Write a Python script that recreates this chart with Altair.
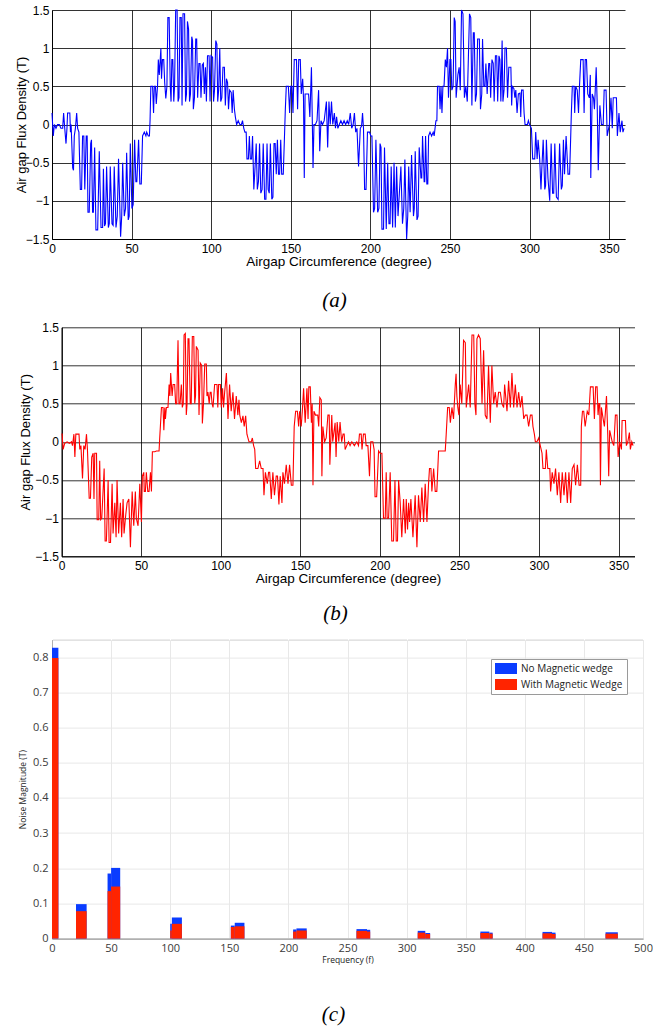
import altair as alt
import pandas as pd

# ---------------- panel (a): no magnetic wedge (degree, tesla) ----------------
wave_a = [
(0.0,0.15),(0.8,-0.15),(1.5,0.0),(2.5,-0.05),(3.5,0.0),(4.6,0.0),(5.6,-0.05),(6.7,-0.05),(7.3,0.15),(8.0,-0.05),
(8.8,-0.25),(9.4,-0.05),(9.8,0.15),(11.2,0.15),(11.6,-0.1),(12.0,0.0),(13.0,-0.57),(13.5,-0.6),(14.0,-0.15),(14.7,-0.05),
(15.5,0.15),(16.1,-0.05),(16.9,-0.1),(17.8,-0.85),(18.6,-0.85),(19.2,-0.15),(20.0,-0.15),(20.6,-0.85),(21.5,-0.15),(22.1,-0.15),
(22.6,-1.15),(23.4,-1.15),(24.3,-0.25),(24.8,-0.2),(25.5,-1.15),(26.0,-1.15),(26.8,-0.3),(27.6,-1.38),(28.7,-1.38),(29.7,-0.35),
(30.8,-1.35),(31.8,-1.35),(32.3,-0.58),(33.0,-1.33),(33.6,-1.3),(34.3,-0.55),(35.4,-1.35),(36.0,-1.3),(36.6,-0.55),(37.7,-1.3),
(38.4,-1.32),(39.1,-0.55),(40.2,-1.35),(41.0,-1.2),(41.8,-0.45),(43.1,-1.47),(43.8,-1.2),(44.4,-0.5),(45.4,-1.2),(46.2,-1.1),
(46.9,-0.37),(47.9,-1.25),(48.5,-1.2),(49.2,-0.25),(50.2,-1.1),(51.0,-1.05),(51.9,-0.2),(52.7,-0.75),(53.3,-0.75),(54.4,-0.2),
(55.2,-0.78),(56.1,-0.78),(56.9,-0.15),(58.0,-0.1),(59.0,-0.15),(59.5,-0.1),(60.5,-0.15),(61.2,-0.15),(61.6,0.05),(62.1,0.5),
(63.2,0.5),(63.8,0.15),(64.3,0.5),(65.0,0.5),(65.5,0.27),(66.3,0.5),(66.8,0.85),(67.4,0.65),(68.0,0.85),(68.4,1.0),
(68.8,0.6),(69.4,0.85),(70.2,0.85),(70.8,0.55),(71.5,0.34),(72.2,0.5),(72.8,1.4),(73.6,1.4),(74.3,0.5),(74.8,0.3),
(75.3,0.85),(75.9,0.85),(76.5,0.3),(77.0,0.5),(77.7,1.5),(78.6,1.5),(79.2,0.3),(79.8,0.35),(80.4,1.4),(81.2,1.4),
(81.7,0.25),(82.3,1.45),(83.3,1.45),(83.9,0.3),(84.5,0.4),(85.1,1.35),(85.8,1.25),(86.4,0.3),(87.0,0.4),(87.8,1.15),
(88.3,1.1),(88.8,0.2),(89.5,0.35),(90.3,1.12),(90.9,1.12),(91.5,0.35),(92.3,0.8),(93.0,0.8),(93.6,0.35),(94.4,0.78),
(95.1,0.8),(95.7,0.4),(96.4,0.75),(97.0,0.3),(97.7,0.9),(98.7,0.9),(99.3,0.3),(99.9,0.9),(100.9,0.88),(101.5,0.3),
(102.1,0.45),(102.9,1.1),(103.6,1.05),(104.1,0.3),(104.7,0.45),(105.4,1.0),(106.0,0.3),(106.7,0.35),(107.4,0.75),(108.3,0.75),
(108.9,0.25),(109.6,0.6),(110.3,0.55),(110.9,0.2),(111.6,0.45),(112.6,0.42),(113.2,0.15),(113.8,0.45),(114.6,0.2),(115.2,0.1),
(116.0,0.0),(117.0,0.05),(118.0,0.0),(119.0,0.0),(119.7,0.05),(120.5,-0.05),(121.2,-0.1),(122.0,-0.1),(122.5,-0.45),(123.4,-0.45),
(124.0,-0.15),(124.6,-0.45),(125.4,-0.45),(126.0,-0.15),(126.8,-0.85),(127.6,-0.55),(128.3,-0.25),(129.0,-0.85),(129.7,-0.75),(130.4,-0.25),
(131.2,-0.9),(132.0,-0.85),(132.7,-0.25),(133.6,-0.98),(134.4,-0.98),(135.1,-0.25),(135.8,-0.85),(136.5,-0.9),(137.2,-0.25),(138.1,-0.98),
(138.8,-0.95),(139.5,-0.25),(140.2,-0.25),(140.9,-0.65),(141.6,-0.2),(142.3,-0.65),(143.0,-0.65),(143.7,-0.2),(144.3,-0.65),(145.3,-0.65),
(146.0,-0.2),(146.6,0.2),(147.2,0.5),(148.5,0.5),(149.3,0.15),(150.0,0.5),(150.8,0.5),(151.4,0.15),(152.2,0.85),(153.6,0.85),
(154.3,0.2),(155.0,0.85),(156.0,0.85),(156.6,0.4),(157.5,0.6),(158.0,0.35),(158.5,-0.7),(159.0,0.4),(160.5,0.4),(161.2,0.4),
(162.0,0.1),(163.0,0.75),(163.5,0.1),(164.0,-0.57),(164.6,0.0),(165.5,0.0),(166.5,0.05),(167.5,0.45),(168.2,-0.35),(169.0,0.05),
(170.0,0.0),(171.0,0.05),(172.4,0.3),(173.2,-0.3),(174.0,0.3),(174.8,0.0),(175.6,0.3),(176.4,0.0),(177.4,0.15),(178.1,-0.05),
(178.8,0.1),(179.6,-0.05),(180.5,0.0),(181.5,0.05),(182.5,0.0),(183.5,0.05),(184.5,0.0),(185.5,0.05),(186.4,0.0),(187.4,0.15),
(188.3,-0.05),(189.2,0.0),(190.0,0.15),(190.8,-0.1),(191.6,-0.05),(192.6,-0.55),(193.7,-0.05),(194.5,-0.02),(195.1,0.15),(195.7,-0.05),
(196.4,-0.85),(197.3,-0.85),(198.2,-0.1),(199.5,-0.1),(200.3,-0.15),(201.0,-0.15),(202.0,-1.15),(202.7,-1.1),(203.5,-0.2),(204.6,-1.15),
(205.4,-1.1),(206.1,-0.25),(206.7,-0.3),(207.3,-1.37),(208.3,-1.37),(208.9,-0.3),(210.0,-1.37),(210.9,-0.5),(211.7,-1.3),(212.4,-1.3),
(213.1,-0.55),(214.0,-1.35),(214.9,-0.5),(215.7,-1.35),(216.5,-0.55),(217.4,-1.2),(218.1,-0.95),(219.2,-0.55),(220.2,-1.3),(221.0,-1.1),
(221.7,-0.46),(222.8,-1.5),(223.5,-1.2),(224.1,-0.55),(225.0,-1.15),(225.9,-0.4),(227.1,-1.2),(227.6,-1.1),(228.2,-0.35),(229.3,-1.25),
(230.0,-1.2),(230.7,-0.3),(231.8,-0.7),(232.3,-0.7),(232.8,-0.15),(233.8,-0.75),(234.2,-0.75),(234.7,-0.15),(235.5,-0.78),(236.1,-0.78),
(236.6,-0.15),(237.5,-0.1),(238.5,-0.15),(239.5,-0.1),(240.1,-0.15),(241.2,0.05),(241.8,0.05),(242.2,0.5),(243.2,0.5),(243.8,0.2),
(244.4,0.5),(245.0,0.15),(245.6,0.5),(246.3,0.5),(247.1,0.85),(247.8,0.75),(248.5,1.0),(249.1,0.35),(250.0,0.85),(250.6,0.85),
(251.2,0.45),(252.0,0.5),(252.7,1.4),(253.3,1.35),(253.9,0.35),(255.0,0.65),(255.8,0.75),(256.5,0.45),(257.3,1.5),(258.2,1.45),
(259.1,0.35),(260.0,0.5),(260.9,0.3),(262.3,1.45),(263.1,1.4),(263.8,0.25),(264.7,1.2),(265.3,1.2),(266.0,0.3),(266.7,0.4),
(267.4,1.12),(268.5,1.12),(269.2,0.2),(270.0,0.4),(270.5,1.12),(271.3,0.5),(272.0,0.5),(272.6,0.8),(273.4,0.4),(274.4,0.8),
(275.0,0.8),(275.6,0.35),(276.4,0.85),(277.2,0.8),(277.8,0.3),(278.6,0.9),(279.4,0.9),(280.0,0.3),(280.8,0.9),(281.4,0.85),
(282.0,0.3),(282.8,1.1),(283.3,0.3),(284.0,0.45),(284.6,1.0),(285.5,1.0),(286.2,0.35),(287.0,0.75),(288.3,0.75),(288.8,0.25),
(289.2,0.5),(290.2,0.47),(290.8,0.35),(291.4,0.45),(292.2,0.15),(293.0,0.4),(294.0,0.41),(294.5,0.1),(295.0,0.45),(296.0,0.45),
(296.6,0.15),(297.2,0.0),(298.7,0.0),(299.3,0.05),(300.0,0.0),(301.2,-0.05),(302.0,-0.45),(303.3,-0.45),(303.9,-0.1),(304.8,-0.45),
(305.4,-0.2),(306.4,-0.45),(307.2,-0.85),(307.7,-0.6),(308.6,-0.2),(309.6,-0.85),(310.1,-0.8),(310.6,-0.2),(311.6,-0.7),(312.7,-1.0),
(313.6,-0.25),(314.5,-0.9),(315.2,-0.9),(315.9,-0.25),(316.9,-0.95),(318.0,-0.98),(318.9,-0.25),(320.0,-0.85),(320.6,-0.8),(321.3,-0.2),
(322.0,-0.65),(323.0,-0.15),(324.2,-0.65),(325.2,-0.65),(325.9,-0.15),(326.3,0.15),(326.9,0.5),(328.0,0.5),(328.4,0.15),(329.0,0.5),
(330.0,0.45),(330.8,0.15),(331.4,0.5),(332.2,0.85),(333.7,0.85),(334.3,0.15),(335.0,0.85),(335.8,0.85),(336.6,0.4),(337.6,0.35),
(338.2,0.65),(338.5,-0.7),(339.4,0.4),(340.2,0.35),(340.8,0.2),(341.9,0.75),(342.5,0.3),(343.2,-0.6),(344.2,0.25),(345.2,0.0),
(346.3,0.0),(346.9,0.45),(348.1,0.45),(348.8,-0.15),(350.2,0.0),(351.2,0.35),(352.0,-0.05),(352.6,0.35),(354.6,0.35),(355.2,-0.15),
(356.2,0.15),(357.0,-0.1),(358.1,0.05),(358.7,-0.1),(359.4,-0.05),
]

# ---------------- panel (b): with magnetic wedge (degree, tesla) ----------------
wave_b = [
(0.0,0.1),(0.4,0.1),(1.0,-0.1),(2.0,-0.02),(3.5,0.0),(5.0,-0.02),(6.3,0.0),(6.9,-0.05),(7.8,0.1),(8.4,-0.2),
(9.0,0.1),(10.0,0.1),(11.0,0.1),(11.5,-0.1),(12.2,-0.05),(13.2,-0.48),(14.0,-0.05),(14.8,-0.1),(15.7,0.1),(16.3,-0.1),
(17.4,-0.74),(18.2,-0.74),(19.0,-0.2),(19.9,-0.15),(20.4,-0.75),(20.9,-0.15),(22.0,-0.15),(22.4,-1.02),(23.4,-1.02),(24.0,-0.25),
(24.6,-1.02),(25.3,-1.0),(26.8,-0.35),(27.4,-1.3),(28.2,-1.3),(29.3,-0.5),(29.9,-1.32),(30.8,-1.32),(31.8,-0.55),(32.4,-1.2),
(33.5,-0.8),(34.3,-1.25),(34.9,-0.5),(35.9,-1.2),(37.0,-0.8),(37.8,-1.25),(38.7,-0.75),(39.3,-1.2),(40.4,-0.95),(41.2,-0.8),
(42.3,-0.75),(43.3,-1.38),(44.4,-0.65),(45.4,-1.1),(46.4,-0.65),(47.0,-1.0),(48.1,-1.1),(49.2,-0.55),(50.2,-1.05),(50.8,-0.45),
(51.7,-0.4),(52.0,-0.65),(52.7,-0.65),(53.3,-0.4),(54.2,-0.65),(55.0,-0.65),(55.9,-0.4),(56.5,-0.65),(57.1,-0.13),(58.6,-0.13),
(59.6,-0.12),(61.3,-0.12),(61.7,0.05),(62.8,0.45),(63.8,0.45),(64.3,0.15),(64.9,0.45),(65.3,0.3),(65.9,0.45),(66.9,0.45),
(67.6,0.75),(68.1,0.6),(68.6,0.9),(69.5,0.6),(70.1,0.75),(71.1,0.75),(71.7,0.5),(72.4,0.5),(73.2,1.33),(73.8,0.5),
(74.5,0.5),(75.3,0.75),(75.9,0.45),(76.5,0.5),(77.0,1.4),(77.8,1.42),(78.4,0.35),(78.9,0.5),(79.5,1.35),(80.1,1.35),
(80.9,0.5),(81.5,0.5),(82.2,1.38),(83.1,1.38),(83.7,0.5),(84.2,0.6),(84.7,1.25),(85.8,1.2),(86.4,0.35),(87.2,1.03),
(88.1,1.0),(88.5,0.24),(89.2,0.5),(90.0,1.02),(91.0,1.02),(91.4,0.6),(92.0,0.65),(92.8,0.5),(93.4,0.65),(94.0,0.65),
(94.6,0.5),(95.2,0.45),(96.2,0.75),(97.7,0.75),(98.2,0.45),(98.7,0.75),(99.8,0.75),(100.4,0.45),(101.2,0.7),(101.8,0.45),
(102.5,0.65),(103.6,0.9),(104.6,0.3),(105.6,0.75),(106.6,0.4),(107.7,0.65),(108.7,0.3),(109.8,0.6),(110.8,0.35),(111.5,0.55),
(112.0,0.35),(113.0,0.25),(114.0,0.34),(114.8,0.2),(115.7,0.34),(116.5,0.1),(117.8,0.0),(119.2,0.0),(119.9,0.05),(120.7,-0.05),
(121.4,-0.1),(122.0,-0.35),(123.4,-0.35),(124.5,-0.25),(125.5,-0.35),(126.6,-0.35),(127.2,-0.7),(128.1,-0.4),(129.3,-0.55),(130.1,-0.4),
(130.8,-0.4),(131.8,-0.75),(132.8,-0.4),(133.8,-0.7),(134.9,-0.45),(135.7,-0.45),(136.6,-0.82),(137.4,-0.45),(138.5,-0.8),(139.1,-0.4),
(140.1,-0.55),(141.2,-0.3),(142.3,-0.55),(143.3,-0.3),(144.4,-0.57),(145.4,-0.57),(146.2,0.2),(147.1,0.4),(148.2,0.4),(149.0,0.2),
(149.6,0.4),(150.6,0.2),(151.3,0.4),(152.1,0.7),(153.1,0.25),(154.2,0.7),(154.9,0.3),(155.4,0.72),(156.3,0.72),(157.0,0.25),
(157.5,0.5),(158.0,-0.57),(158.6,0.4),(159.6,0.35),(161.0,0.35),(161.6,0.2),(162.3,0.58),(163.2,0.55),(163.6,-0.45),(164.2,0.2),
(165.3,0.0),(166.3,0.05),(167.4,0.35),(168.2,0.35),(168.6,-0.3),(169.8,0.35),(170.4,0.0),(171.9,0.25),(172.5,-0.2),(173.2,0.26),
(174.2,0.0),(175.0,0.26),(176.0,0.0),(176.9,0.1),(177.6,0.1),(178.2,-0.1),(179.2,-0.05),(180.3,0.0),(181.3,-0.05),(182.4,0.0),
(184.0,-0.05),(185.5,0.0),(186.6,-0.05),(187.2,0.1),(188.3,0.1),(188.8,-0.1),(189.7,0.1),(190.8,0.1),(191.4,-0.05),(192.5,-0.05),
(193.5,-0.45),(194.3,0.0),(195.6,0.0),(196.4,-0.1),(197.0,-0.72),(198.0,-0.72),(199.2,-0.12),(200.2,-0.15),(201.3,-0.15),(202.3,-1.0),
(203.4,-1.0),(204.0,-0.4),(204.6,-1.0),(205.5,-1.0),(206.5,-0.4),(207.5,-1.3),(208.6,-1.3),(209.5,-0.5),(210.3,-1.3),(211.1,-1.3),
(211.8,-0.5),(212.8,-0.8),(213.8,-1.25),(214.9,-0.75),(216.0,-1.2),(216.6,-0.75),(217.4,-1.15),(218.1,-0.8),(218.7,-1.05),(219.5,-0.75),
(220.8,-1.25),(222.2,-0.7),(223.3,-1.38),(224.3,-0.7),(225.4,-1.05),(226.4,-0.6),(227.5,-1.05),(228.5,-0.55),(229.6,-1.05),(230.6,-0.55),
(231.2,-0.35),(232.1,-0.35),(232.7,-0.65),(233.8,-0.35),(234.8,-0.65),(235.8,-0.65),(236.9,-0.12),(239.5,-0.12),(241.1,-0.12),(241.7,0.1),
(242.6,0.45),(243.6,0.45),(244.3,0.25),(245.3,0.45),(246.3,0.3),(247.4,0.75),(247.9,0.89),(248.4,0.6),(249.0,0.45),(249.7,0.35),
(250.5,0.75),(251.5,0.5),(252.6,1.33),(253.7,1.3),(254.3,0.45),(255.8,0.75),(256.8,0.45),(257.9,1.4),(259.0,1.4),(259.7,0.5),
(260.4,0.35),(261.0,1.35),(262.0,1.4),(263.1,1.35),(264.2,0.5),(265.2,1.2),(266.2,0.35),(267.3,0.3),(268.3,1.0),(269.4,0.25),
(270.4,1.0),(271.5,0.5),(272.5,0.65),(273.6,0.45),(274.6,0.65),(275.7,0.65),(276.7,0.5),(277.8,0.45),(278.4,0.75),(279.9,0.4),
(280.9,0.8),(282.0,0.45),(283.0,0.9),(284.1,0.45),(285.1,0.75),(286.2,0.45),(287.2,0.65),(288.3,0.45),(289.3,0.6),(290.4,0.3),
(291.4,0.35),(292.5,0.35),(293.5,0.2),(294.6,0.35),(295.6,0.35),(296.2,0.2),(297.1,0.1),(297.7,0.0),(298.7,0.0),(299.8,0.05),
(300.8,-0.05),(301.9,-0.15),(302.5,-0.35),(304.0,-0.35),(304.6,-0.1),(305.5,-0.35),(306.8,-0.35),(307.3,-0.65),(308.3,-0.4),(309.4,-0.55),
(310.4,-0.35),(311.5,-0.7),(312.5,-0.4),(313.6,-0.8),(314.6,-0.4),(315.7,-0.7),(316.7,-0.4),(317.8,-0.8),(318.8,-0.4),(319.9,-0.8),
(320.9,-0.35),(322.0,-0.3),(323.0,-0.57),(324.1,-0.3),(325.2,-0.57),(326.2,-0.57),(326.6,0.2),(327.3,0.4),(328.1,0.4),(329.0,0.2),
(330.3,0.4),(331.3,0.35),(332.3,0.72),(334.0,0.72),(334.8,0.3),(335.6,0.72),(336.5,0.72),(337.1,0.35),(337.7,0.5),(338.2,0.5),
(338.6,-0.57),(339.2,0.45),(340.3,0.3),(341.1,0.2),(342.4,0.6),(343.2,0.1),(343.8,-0.45),(344.4,0.15),(346.0,0.0),(347.0,-0.05),
(348.0,0.35),(349.0,0.35),(349.7,-0.2),(350.7,0.0),(351.8,-0.1),(352.2,0.28),(354.3,0.28),(354.9,-0.05),(355.8,0.0),(356.8,0.12),
(357.4,-0.1),(358.3,0.0),(359.1,-0.05),
]

# ---------------- panel (c): harmonic spectrum bars ----------------
bar_start = [0.0, 20.3, 47.0, 50.0, 100.0, 101.4, 151.3, 154.6, 204.0, 206.8,
             257.6, 266.5, 309.4, 315.8, 362.4, 370.0, 415.0, 423.0, 468.3]
bar_end = [5.4, 29.3, 50.0, 57.7, 101.4, 109.9, 154.6, 162.8, 206.8, 215.5,
           266.5, 269.2, 315.8, 319.9, 370.0, 372.8, 423.0, 426.0, 478.7]
mag_no_wedge = [0.827, 0.098, 0.185, 0.201, 0.042, 0.060, 0.037, 0.045, 0.026, 0.029,
                0.027, 0.025, 0.022, 0.016, 0.020, 0.017, 0.019, 0.017, 0.018]
mag_with_wedge = [0.798, 0.078, 0.135, 0.148, 0.023, 0.042, 0.033, 0.035, 0.020, 0.023,
                  0.022, 0.020, 0.017, 0.013, 0.016, 0.014, 0.015, 0.013, 0.014]
series_names = ["No Magnetic wedge", "With Magnetic Wedge"]
series_colors = ["#0a3cff", "#ff2400"]
freq_ticks = [0, 50, 100, 150, 200, 250, 300, 350, 400, 450, 500]
mag_ticks = [0, 0.1, 0.2, 0.3, 0.4, 0.5, 0.6, 0.7, 0.8]

df_a = pd.DataFrame(wave_a, columns=["deg", "flux"])
df_b = pd.DataFrame(wave_b, columns=["deg", "flux"])
rows = []
for name, mags in zip(series_names, [mag_no_wedge, mag_with_wedge]):
    for s, e, m in zip(bar_start, bar_end, mags):
        rows.append({"f0": s, "f1": e, "mag": m, "series": name, "zero": 0.0})
df_c = pd.DataFrame(rows)

deg_ticks = [0, 50, 100, 150, 200, 250, 300, 350]
flux_ticks = [-1.5, -1, -0.5, 0, 0.5, 1, 1.5]
MFONT = "Liberation Sans"


def caption(text, offset, dx=0):
    return alt.TitleParams(text, orient="bottom", font="Liberation Serif", fontStyle="italic",
                           fontWeight="normal", fontSize=21, color="black", offset=offset,
                           dx=dx, anchor="middle")


def flux_panel(df, color, width, xrange, yoffset, title_x, cap, cap_off, cap_dx):
    if xrange is not None:
        xs = alt.Scale(domain=[0, 360], nice=False, zero=False, range=xrange)
    else:
        xs = alt.Scale(domain=[0, 360], nice=False, zero=False)
    return alt.Chart(df).mark_line(color=color, strokeWidth=1.1, interpolate="linear").encode(
        x=alt.X("deg:Q", scale=xs,
                axis=alt.Axis(values=deg_ticks, title="Airgap Circumference (degree)", grid=True,
                              gridColor="black", gridOpacity=0.8, gridWidth=1, domainColor="black",
                              domainWidth=1, ticks=False, labelFlush=False, labelPadding=4,
                              labelFont=MFONT, labelFontSize=12, labelColor="black",
                              titleFont=MFONT, titleFontSize=13.5, titleFontWeight="normal",
                              titleColor="black", titlePadding=0)),
        y=alt.Y("flux:Q", scale=alt.Scale(domain=[-1.5, 1.5], nice=False),
                axis=alt.Axis(values=flux_ticks, format="~g", title="Air gap Flux Density (T)", grid=True,
                              gridColor="black", gridOpacity=0.8, gridWidth=1, domainColor="black",
                              domainWidth=1, ticks=False, labelFlush=False, labelPadding=3,
                              labelFont=MFONT, labelFontSize=12, labelColor="black",
                              titleFont=MFONT, titleFontSize=13, titleFontWeight="normal",
                              titleColor="black", titleX=title_x, titleBaseline="middle",
                              offset=yoffset)),
    ).properties(width=width, height=229, title=caption(cap, cap_off, cap_dx),
                 view=alt.ViewBackground(stroke=None))


panel_a = flux_panel(df_a, "#0000ff", 573, None, 0, -31, "(a)", 22, -4)
panel_b = flux_panel(df_b, "#ff0000", 583, [9.5, 582.5], -9.5, -36.5, "(b)", 17.7, -8)

c_xscale = alt.Scale(domain=[0, 500], nice=False)
bars = alt.Chart(df_c).mark_rect().encode(
    x=alt.X("f0:Q", scale=c_xscale,
            axis=alt.Axis(values=freq_ticks, title="Frequency (f)", grid=True,
                          gridColor="#e8e8e8", gridWidth=1, domainColor="#8c8c8c", ticks=False,
                          labelFlush=False, labelPadding=4, labelFont="Open Sans", labelFontSize=11,
                          labelColor="#3a3a3a", titleFont="Open Sans", titleFontSize=8.5,
                          titleFontWeight="normal", titleColor="#222222", titlePadding=2)),
    x2="f1:Q",
    y=alt.Y("mag:Q", scale=alt.Scale(domain=[0, 0.85], nice=False),
            axis=alt.Axis(values=mag_ticks, format="~g",
                          title="Noise Magnitude (T)", grid=True, gridColor="#e8e8e8", gridWidth=1,
                          domainColor="#b0b0b0", ticks=False, labelFlush=False, labelPadding=4,
                          labelFont="Open Sans", labelFontSize=11, labelColor="#3a3a3a",
                          titleFont="Open Sans", titleFontSize=8.5, titleFontWeight="normal",
                          titleColor="#222222", titleX=-29.5, titleBaseline="middle")),
    y2="zero:Q",
    color=alt.Color("series:N", scale=alt.Scale(domain=series_names, range=series_colors),
                    legend=alt.Legend(title=None, orient="none", legendX=439, legendY=649,
                                      strokeColor="#9a9a9a", fillColor="white", padding=4,
                                      symbolType="M-1,-1H3V1H-1Z", symbolSize=121,
                                      symbolStrokeWidth=0, labelFont="Open Sans", labelFontSize=10,
                                      labelColor="#222222", rowPadding=5, labelOffset=15)),
    order=alt.Order("series:N"),
)
# top edge axis of panel (c): only small tick marks along the frame
top_edge = alt.Chart(df_c).mark_rule(opacity=0).encode(
    x=alt.X("f0:Q", scale=c_xscale,
            axis=alt.Axis(orient="top", values=freq_ticks, labels=False, domain=False, grid=False,
                          title=None, ticks=True, tickSize=3.4, tickColor="white")),
)
panel_c = alt.layer(bars, top_edge).resolve_axis(x="independent").properties(
    width=591, height=299, title=caption("(c)", 40, -14),
    view=alt.ViewBackground(stroke="#cfcfcf", strokeWidth=1))

chart = alt.vconcat(panel_a, panel_b, panel_c, spacing=10.3).properties(
    padding={"left": 15, "top": 4, "right": 0, "bottom": 0}
).configure(background="white")

chart.save("out.html", embed_options={"renderer": "svg", "actions": False})
